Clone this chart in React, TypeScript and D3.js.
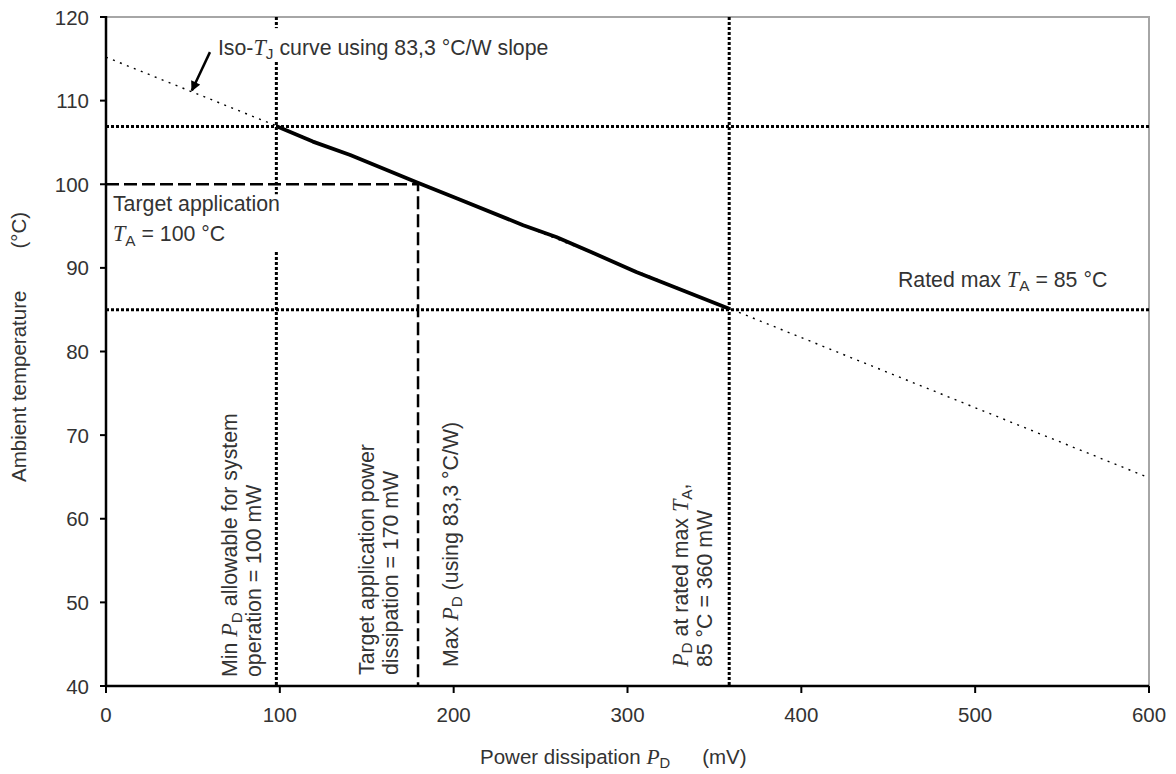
import { useEffect, useRef } from 'react';
import * as d3 from 'd3';

// axis ticks
const xTicks = [0, 100, 200, 300, 400, 500, 600];
const yTicks = [40, 50, 60, 70, 80, 90, 100, 110, 120];

// solid derating segment (mW, °C)
const curvePower = [98.5, 119, 140.5, 179, 202, 240, 259, 279, 305, 358.5];
const curveTemp = [106.9, 105.1, 103.5, 100.2, 98.3, 95.1, 93.7, 91.9, 89.5, 85.1];

// iso-TJ extension (83,3 °C/W)
const isoPower = [0, 600];
const isoTemp = [115.2, 64.9];

// reference lines
const minPower = 98;
const targetPower = 179.5;
const ratedPower = 358.5;
const limitTemp = 106.9;
const targetTemp = 100;
const ratedTemp = 85;

// arrow for iso label (tail, head) in data units
const arrowPower = [59.8, 49.4];
const arrowTemp = [115.8, 111.2];

type Seg = { t: string; it?: boolean; sub?: boolean };

const SANS = '"Liberation Sans", Arial, sans-serif';
const SERIF = '"Liberation Serif", "Times New Roman", serif';
const TEXT = '#333';
const FS = 21.3; // annotations
const FS_AX = 20.5; // ticks and titles

function rich(sel: any, segs: Seg[], fs: number) {
  let lowered = false;
  const shift = fs * 0.2;
  segs.forEach((s) => {
    const ts = sel.append('tspan').text(s.t);
    if (s.it) ts.attr('font-family', SERIF).attr('font-style', 'italic').attr('font-size', fs + 1);
    if (s.sub) {
      ts.attr('font-size', fs * 0.72).attr('dy', shift);
      lowered = true;
    } else if (lowered) {
      ts.attr('dy', -shift);
      lowered = false;
    }
  });
  return sel;
}

export default function App() {
  const ref = useRef<SVGSVGElement | null>(null);

  useEffect(() => {
    if (!ref.current) return;
    document.body.style.margin = '0';
    const svg = d3.select(ref.current);
    svg.selectAll('*').remove();

    const x = d3.scaleLinear().domain([0, 600]).range([106, 1149]);
    const y = d3.scaleLinear().domain([40, 120]).range([686, 17]);

    svg.append('rect').attr('width', 1176).attr('height', 774).attr('fill', '#fff');

    // frame (top / right)
    svg.append('path')
      .attr('d', `M${x(0)},${y(120)}H${x(600)}V${y(40)}`)
      .attr('fill', 'none')
      .attr('stroke', '#a6a6a6')
      .attr('stroke-width', 2);

    const dotted = (g: any) => g.attr('stroke', '#000').attr('stroke-width', 3).attr('stroke-dasharray', '3 2').attr('fill', 'none');
    const dashed = (g: any) => g.attr('stroke', '#000').attr('stroke-width', 2.5).attr('stroke-dasharray', '13 5').attr('fill', 'none');

    // horizontal dotted limits
    [limitTemp, ratedTemp].forEach((t) => {
      svg.append('line').attr('x1', x(0)).attr('x2', x(600)).attr('y1', y(t)).attr('y2', y(t)).call(dotted);
    });
    // vertical dotted limits
    [minPower, ratedPower].forEach((p) => {
      svg.append('line').attr('x1', x(p)).attr('x2', x(p)).attr('y1', y(120)).attr('y2', y(40)).call(dotted);
    });
    // target dashed
    svg.append('path')
      .attr('d', `M${x(0)},${y(targetTemp)}H${x(targetPower)}V${y(40)}`)
      .call(dashed);

    // iso dotted line
    const isoData = isoPower.map((p, i) => [p, isoTemp[i]] as [number, number]);
    svg.append('path')
      .datum(isoData)
      .attr('d', d3.line<[number, number]>().x((d) => x(d[0])).y((d) => y(d[1])))
      .attr('fill', 'none')
      .attr('stroke', '#000')
      .attr('stroke-width', 1.4)
      .attr('stroke-dasharray', '2 5.5');

    // solid curve
    const curveData = curvePower.map((p, i) => [p, curveTemp[i]] as [number, number]);
    svg.append('path')
      .datum(curveData)
      .attr('d', d3.line<[number, number]>().x((d) => x(d[0])).y((d) => y(d[1])))
      .attr('fill', 'none')
      .attr('stroke', '#000')
      .attr('stroke-width', 3.8)
      .attr('stroke-linejoin', 'round');

    // axes
    svg.append('line').attr('x1', x(0)).attr('x2', x(0)).attr('y1', y(120) - 1).attr('y2', y(40) + 1)
      .attr('stroke', '#000').attr('stroke-width', 2.5);
    svg.append('line').attr('x1', x(0) - 1).attr('x2', x(600)).attr('y1', y(40)).attr('y2', y(40))
      .attr('stroke', '#000').attr('stroke-width', 2.5);

    const yt = svg.append('g');
    yTicks.forEach((t) => {
      yt.append('line').attr('x1', x(0) - 6).attr('x2', x(0)).attr('y1', y(t)).attr('y2', y(t))
        .attr('stroke', '#000').attr('stroke-width', 2);
      yt.append('text').attr('x', x(0) - 17).attr('y', y(t) + 7.5)
        .attr('text-anchor', 'end').attr('font-family', SANS).attr('font-size', FS_AX).attr('fill', TEXT)
        .text(t);
    });
    const xt = svg.append('g');
    xTicks.forEach((t) => {
      xt.append('line').attr('x1', x(t)).attr('x2', x(t)).attr('y1', y(40)).attr('y2', y(40) + 7)
        .attr('stroke', '#000').attr('stroke-width', 2);
      xt.append('text').attr('x', x(t)).attr('y', y(40) + 36)
        .attr('text-anchor', 'middle').attr('font-family', SANS).attr('font-size', FS_AX).attr('fill', TEXT)
        .text(t);
    });

    // axis titles
    const yTitle = svg.append('text')
      .attr('transform', `translate(26,${y(40) - 204}) rotate(-90)`)
      .attr('font-family', SANS).attr('font-size', FS_AX).attr('fill', TEXT);
    yTitle.append('tspan').text('Ambient temperature');
    yTitle.append('tspan').attr('dx', 42).text('(°C)');

    const xTitle = svg.append('text')
      .attr('x', 480).attr('y', 764)
      .attr('font-family', SANS).attr('font-size', FS_AX).attr('fill', TEXT);
    rich(xTitle, [{ t: 'Power dissipation ' }, { t: 'P', it: true }, { t: 'D', sub: true }], FS_AX);
    xTitle.append('tspan').attr('dx', 32).attr('dy', -FS_AX * 0.2).text('(mV)');

    // annotations, optionally with white backing
    const label = (px: number, py: number, lines: Seg[][], opts: { rotate?: boolean; anchor?: string; gap?: number; bg?: boolean; pad?: number[] } = {}) => {
      const g = svg.append('g').attr('transform', `translate(${px},${py})${opts.rotate ? ' rotate(-90)' : ''}`);
      const bgRect = g.append('rect').attr('fill', '#fff');
      lines.forEach((segs, i) => {
        const t = g.append('text')
          .attr('x', 0)
          .attr('y', i * (opts.gap ?? 30))
          .attr('text-anchor', opts.anchor ?? 'start')
          .attr('font-family', SANS).attr('font-size', FS).attr('fill', TEXT);
        rich(t, segs, FS);
      });
      if (opts.bg) {
        const bb = (g.node() as SVGGElement).getBBox();
        const p = opts.pad ?? [0, 0, 0, 0];
        bgRect.attr('x', bb.x - p[3]).attr('y', bb.y - p[0])
          .attr('width', bb.width + p[1] + p[3]).attr('height', bb.height + p[0] + p[2]);
      } else {
        bgRect.remove();
      }
    };

    // iso arrow
    const defs = svg.append('defs');
    defs.append('marker').attr('id', 'arrowHead').attr('viewBox', '0 0 10 10')
      .attr('refX', 9).attr('refY', 5).attr('markerWidth', 4.5).attr('markerHeight', 4)
      .attr('orient', 'auto').attr('markerUnits', 'strokeWidth')
      .append('path').attr('d', 'M0,0L10,5L0,10Z').attr('fill', '#000');
    svg.append('line')
      .attr('x1', x(arrowPower[0])).attr('y1', y(arrowTemp[0]))
      .attr('x2', x(arrowPower[1])).attr('y2', y(arrowTemp[1]))
      .attr('stroke', '#000').attr('stroke-width', 2.5)
      .attr('marker-end', 'url(#arrowHead)');

    label(x(arrowPower[0]) + 8, y(arrowTemp[0]) + 3,
      [[{ t: 'Iso-' }, { t: 'T', it: true }, { t: 'J', sub: true }, { t: ' curve using 83,3 °C/W slope' }]],
      { bg: true, pad: [7, 2, -2, 2] });

    label(x(4), y(targetTemp) + 27,
      [[{ t: 'Target application' }], [{ t: 'T', it: true }, { t: 'A', sub: true }, { t: ' = 100 °C' }]],
      { bg: true, pad: [-2, 2, 2, 2] });

    label(x(576), y(ratedTemp) - 23,
      [[{ t: 'Rated max ' }, { t: 'T', it: true }, { t: 'A', sub: true }, { t: ' = 85 °C' }]],
      { anchor: 'end' });

    const base = y(40);
    label(x(minPower) - 39, base - 9,
      [[{ t: 'Min ' }, { t: 'P', it: true }, { t: 'D', sub: true }, { t: ' allowable for system' }], [{ t: 'operation = 100 mW' }]],
      { rotate: true, gap: 24 });
    label(x(targetPower) - 44, base - 11,
      [[{ t: 'Target application power' }], [{ t: 'dissipation = 170 mW' }]],
      { rotate: true, gap: 24 });
    label(x(targetPower) + 40, base - 19,
      [[{ t: 'Max ' }, { t: 'P', it: true }, { t: 'D', sub: true }, { t: ' (using 83,3 °C/W)' }]],
      { rotate: true });
    label(x(ratedPower) - 41, base - 19,
      [[{ t: 'P', it: true }, { t: 'D', sub: true }, { t: ' at rated max ' }, { t: 'T', it: true }, { t: 'A', sub: true }, { t: ',' }], [{ t: '85 °C = 360 mW' }]],
      { rotate: true, gap: 24 });
  }, []);

  return <svg ref={ref} width={1176} height={774} style={{ display: 'block' }} />;
}
